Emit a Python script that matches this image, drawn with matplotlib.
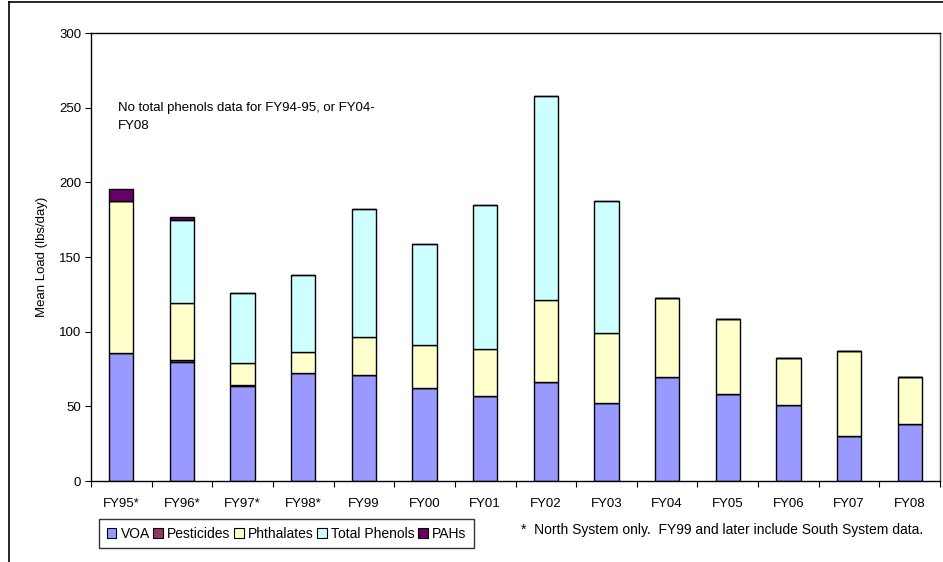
import matplotlib as mpl
mpl.use('Agg')
import matplotlib.pyplot as plt
from matplotlib.patches import Patch
from matplotlib.lines import Line2D
import numpy as np

plt.rcParams['font.family'] = ['Liberation Sans', 'DejaVu Sans']

# data (lbs/day)
years = ["FY95*", "FY96*", "FY97*", "FY98*", "FY99", "FY00", "FY01",
         "FY02", "FY03", "FY04", "FY05", "FY06", "FY07", "FY08"]
voa = [86.0, 79.5, 63.5, 72.5, 70.8, 62.5, 57.1, 66.1, 52.0, 69.6, 58.0, 50.9, 30.1, 38.4]
pesticides = [0.0, 1.2, 1.0, 0.0, 0, 0, 0, 0, 0, 0, 0, 0, 0, 0]
phthalates = [101.5, 38.5, 14.3, 13.7, 25.8, 28.6, 31.5, 54.9, 47.3, 53.2, 50.7, 31.7, 56.7, 31.5]
phenols = [0.0, 55.6, 47.3, 51.7, 85.5, 67.6, 96.0, 136.8, 88.2, 0, 0, 0, 0, 0]
pahs = [8.2, 2.0, 0, 0, 0, 0, 0, 0, 0, 0, 0, 0, 0, 0]

series = [("VOA", voa, "#9999FF"),
          ("Pesticides", pesticides, "#993366"),
          ("Phthalates", phthalates, "#FFFFCC"),
          ("Total Phenols", phenols, "#CCFFFF"),
          ("PAHs", pahs, "#660066")]

fig = plt.figure(figsize=(9.43, 5.62), dpi=100)
ax = fig.add_axes([91/943, 1-481/562, (940-91)/943, (481-33)/562])

x = np.arange(len(years))
bottom = np.zeros(len(years))
for name, vals, col in series:
    vals = np.array(vals, dtype=float)
    ax.bar(x, vals, width=0.40, bottom=bottom, color=col, edgecolor="black",
           linewidth=1.0)
    bottom += vals

ax.set_xlim(-0.5, len(years) - 0.5)
ax.set_ylim(0, 300)
ax.set_yticks(np.arange(0, 301, 50))
ax.tick_params(axis='y', direction='out', length=4, labelsize=9.5, pad=3)
# ticks between categories, labels at centres
ax.set_xticks(np.arange(-0.5, len(years), 1.0))
ax.set_xticklabels([])
ax.set_xticks(x, minor=True)
ax.set_xticklabels(years, minor=True, fontsize=9.5)
ax.tick_params(axis='x', which='major', direction='out', length=4)
ax.tick_params(axis='x', which='minor', length=0, pad=12)
for s in ax.spines.values():
    s.set_linewidth(1.0)
ax.spines['right'].set_color('#444444')

ax.set_ylabel("Mean Load (lbs/day)", fontsize=9.5, labelpad=8)

ax.text(-0.06, 253.5, "No total phenols data for FY94-95, or FY04-\nFY08",
        fontsize=9.5, va='top', ha='left', linespacing=1.6)

# outer chart frame
fig.add_artist(Line2D([9/943, 1], [1-2/562, 1-2/562], color='black', lw=1.2))
fig.add_artist(Line2D([9/943, 9/943], [0, 1-2/562], color='black', lw=1.2))

handles = [Patch(facecolor=c, edgecolor='black', linewidth=0.8, label=n)
           for n, v, c in series]
fig.legend(handles=handles, ncol=5, loc='upper left',
           bbox_to_anchor=(99/943, 1-519/562), fontsize=10, frameon=True,
           fancybox=False, edgecolor='black', handlelength=0.7,
           handleheight=0.7, handletextpad=0.3, columnspacing=0.25,
           borderpad=0.55, borderaxespad=0)

fig.text(521/943, 1-530/562,
         "*  North System only.  FY99 and later include South System data.",
         fontsize=10, va='center', ha='left')

plt.savefig("out.png", format='png', dpi=100)
